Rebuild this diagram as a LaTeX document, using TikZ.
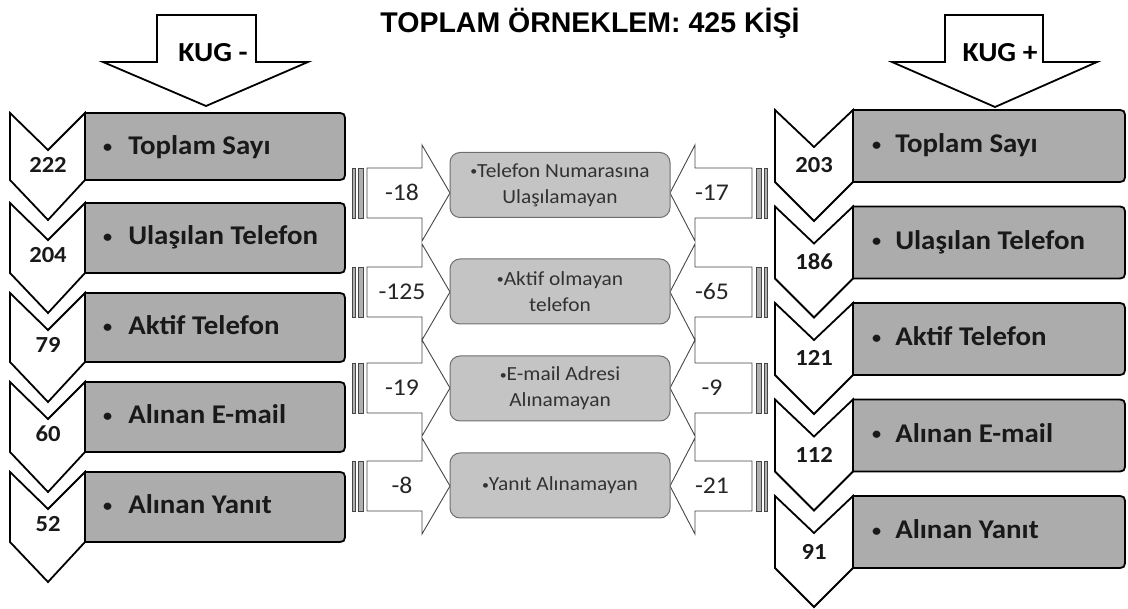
\documentclass[tikz,border=0pt]{standalone}
\usepackage{fontspec}
\setmainfont{Carlito}[FakeStretch=1.07]
\newfontfamily\titlefont{Liberation Sans}
\definecolor{sidegray}{RGB}{172,172,172}
\definecolor{midgray}{RGB}{196,196,196}
\definecolor{midborder}{RGB}{110,110,110}
\definecolor{linegray}{RGB}{70,70,70}
\definecolor{stripegray}{RGB}{175,175,175}
\definecolor{midtext}{RGB}{50,50,50}
\newcommand{\bigdot}{\raisebox{2.5pt}{\fontsize{17}{17}\selectfont •}}
\newcommand{\smalldot}{\raisebox{1.8pt}{\fontsize{13}{13}\selectfont •}}
\begin{document}
\begin{tikzpicture}[x=1pt,y=-1pt,
  chev/.style={draw=black, line width=1.8pt, fill=white, line join=miter},
  sidebox/.style={draw=black, line width=1.8pt, fill=sidegray},
  kug/.style={draw=black, line width=1.8pt, fill=white, line join=miter},
  marrow/.style={draw=linegray, line width=0.9pt, fill=white},
  stripe/.style={draw=linegray, line width=0.7pt, fill=stripegray},
  midbox/.style={draw=midborder, line width=1pt, fill=midgray, rounded corners=10pt,
    minimum width=220pt, minimum height=65pt, inner sep=0pt, align=center,
    font=\fontsize{20}{26}\selectfont, text=midtext},
  sidetxt/.style={inner sep=0pt, anchor=base west, font=\fontsize{27}{30}\selectfont\bfseries, text=black!90},
  numtxt/.style={inner sep=0pt, anchor=base, font=\fontsize{23}{28}\selectfont\bfseries, text=black!90},
  arrtxt/.style={inner sep=0pt, anchor=base, font=\fontsize{24}{28}\selectfont, text=black!85},
  kugtxt/.style={inner sep=0pt, anchor=base, font=\fontsize{27.5}{30}\selectfont\bfseries}
]
\useasboundingbox (0,0) rectangle (1128,609);

% title
\node[inner sep=0pt, anchor=base, font={\titlefont\bfseries\fontsize{28.5}{32}\selectfont}] (title) at (590,33) {TOPLAM ÖRNEKLEM: 425 KİŞİ};

% KUG arrows
\draw[kug] (157,15) -- (256,15) -- (256,62) -- (308,62) -- (206,106) -- (103,62) -- (157,62) -- cycle;
\node[kugtxt] (kugminus) at (213,61.5) {KUG -};
\draw[kug] (945,15) -- (1043,15) -- (1043,62) -- (1097,62) -- (995,107) -- (892,62) -- (945,62) -- cycle;
\node[kugtxt] (kugplus) at (1000,61.5) {KUG +};

% middle striped arrows
\foreach \c/\l/\r [count=\i] in {193/-18/-17, 292/-125/-65, 388/-19/-9, 486/-8/-21} {
  \draw[marrow] (367,\c-25) -- (422,\c-25) -- (422,\c-48) -- (450,\c) -- (422,\c+48) -- (422,\c+25) -- (367,\c+25) -- cycle;
  \draw[stripe] (352,\c-25) rectangle (355,\c+25);
  \draw[stripe] (358,\c-25) rectangle (363,\c+25);
  \node[arrtxt] (la\i) at (402,\c+8) {\l};
  \draw[marrow] (752,\c-25) -- (695,\c-25) -- (695,\c-48) -- (670,\c) -- (695,\c+48) -- (695,\c+25) -- (752,\c+25) -- cycle;
  \draw[stripe] (756,\c-25) rectangle (761,\c+25);
  \draw[stripe] (764,\c-25) rectangle (767,\c+25);
  \node[arrtxt] (ra\i) at (712,\c+8) {\r};
}

% middle boxes
\node[midbox] (m1) at (560,185) {\smalldot Telefon Numarasına\\Ulaşılamayan};
\node[midbox] (m2) at (560,291.5) {\smalldot Aktif olmayan\\telefon};
\node[midbox] (m3) at (560,388.5) {\smalldot E-mail Adresi\\Alınamayan};
\node[midbox] (m4) at (560,485.5) {\smalldot Yanıt Alınamayan};

% left column
\foreach \t/\b/\n/\s [count=\i] in {113/180/222/Toplam Sayı, 203/273/204/Ulaşılan Telefon, 293/362/79/Aktif Telefon, 382/452/60/Alınan E-mail, 472/542/52/Alınan Yanıt} {
  \draw[sidebox] (85,\t) -- (335,\t) .. controls (345,\t) .. (345,\t+10) -- (345,\b-10) .. controls (345,\b) .. (335,\b) -- (85,\b) -- cycle;
  \draw[chev] (10,\t) -- (48,\t+37) -- (85,\t) -- (85,\b) -- (48,\b+40) -- (10,\b) -- cycle;
  \node[numtxt] (ln\i) at (48,\t+60) {\n};
  \node[sidetxt] (lb\i) at (103,\t+42) {\bigdot\hspace{16pt}\s};
}

% right column
\foreach \t/\b/\n/\s [count=\i] in {110/182/203/Toplam Sayı, 206.5/278.5/186/Ulaşılan Telefon, 303/375/121/Aktif Telefon, 399.5/471.5/112/Alınan E-mail, 496/568/91/Alınan Yanıt} {
  \draw[sidebox] (853,\t) -- (1115,\t) .. controls (1125,\t) .. (1125,\t+10) -- (1125,\b-10) .. controls (1125,\b) .. (1115,\b) -- (853,\b) -- cycle;
  \draw[chev] (775,\t) -- (814,\t+37) -- (853,\t) -- (853,\b) -- (814,\b+39) -- (775,\b) -- cycle;
  \node[numtxt] (rn\i) at (814,\t+63) {\n};
  \node[sidetxt] (rb\i) at (872,\t+43) {\bigdot\hspace{14pt}\s};
}
\end{tikzpicture}
\end{document}
